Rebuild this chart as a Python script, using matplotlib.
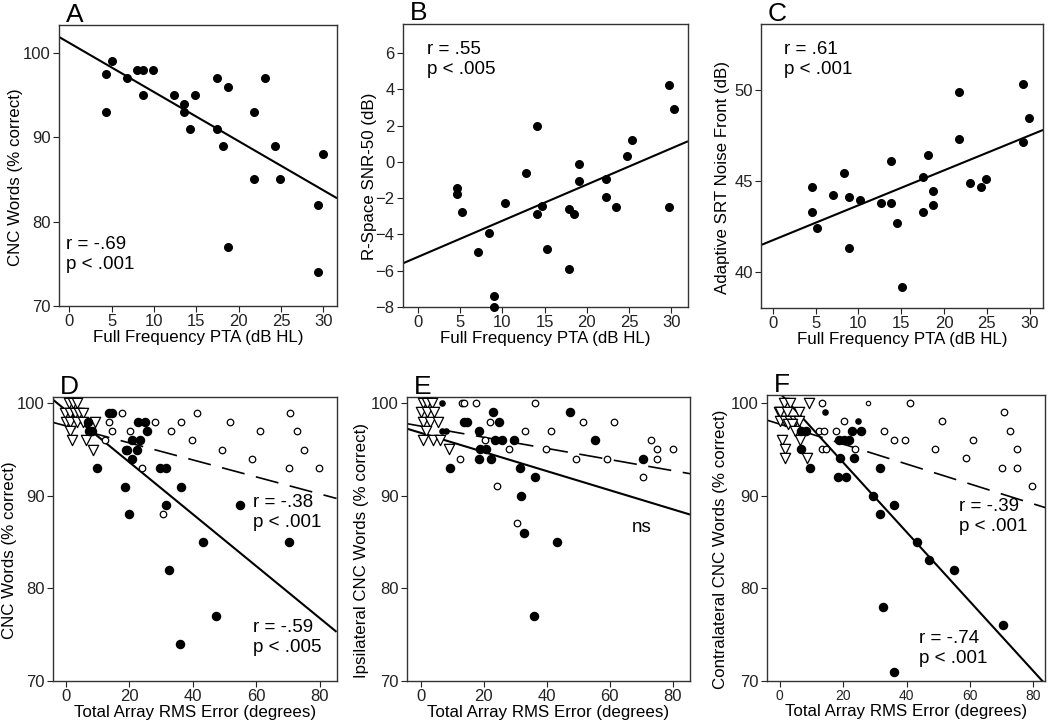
import numpy as np
import matplotlib.pyplot as plt

plt.rcParams['font.family'] = ['Liberation Sans', 'DejaVu Sans']

# ---- top row: PTA vs outcome ----
pta_a = [5, 4.3, 4.3, 6.8, 8.0, 8.7, 9.9, 8.7, 12.4, 13.6, 13.6, 14.9, 14.3, 17.4, 17.4,
         18.7, 18.1, 18.7, 21.8, 21.8, 23.1, 24.3, 24.9, 29.3, 30.0, 29.3]
cnc_a = [99, 97.5, 93, 97, 98, 98, 98, 95, 95, 94, 93, 95, 91, 97, 91,
         96, 89, 77, 93, 85, 97, 89, 85, 82, 88, 74]
fit_a = (101.2, -0.583)

pta_b = [29.8, 30.4, 14.05, 25.4, 24.8, 19.1, 19.1, 12.8, 22.3, 22.3, 23.5, 29.8, 4.6,
         4.6, 5.25, 10.3, 14.7, 14.05, 17.85, 18.5, 8.4, 7.15, 15.3, 17.85, 9.0, 9.0]
snr_b = [4.22, 2.93, 1.98, 1.18, 0.33, -0.14, -1.08, -0.6, -0.97, -1.92, -2.5, -2.5, -1.42,
         -1.79, -2.74, -2.27, -2.45, -2.85, -2.6, -2.89, -3.9, -4.96, -4.78, -5.91, -7.41, -8.0]
fit_b = (-5.235, 0.199)

pta_c = [29.26, 29.9, 29.26, 21.8, 21.8, 18.1, 13.85, 17.5, 8.3, 4.6, 4.6, 5.2, 7.08,
         8.9, 10.16, 12.6, 13.85, 17.5, 18.75, 18.75, 14.5, 8.9, 15.1, 23.07, 24.3, 24.9]
srt_c = [50.33, 48.45, 47.1, 49.87, 47.3, 46.4, 46.08, 45.2, 45.43, 44.66, 43.29, 42.4, 44.2,
         44.08, 43.95, 43.75, 43.75, 43.29, 44.4, 43.67, 42.65, 41.3, 39.18, 44.88, 44.66, 45.08]
fit_c = (41.72, 0.192)

# ---- bottom row: RMS error vs CNC ----
# D
tri_d_x = [1.0, 2.3, 3.6, -0.3, 1.3, 2.8, 4.2, 5.5, 0.0, 1.5, 3.4, 5.5, 9.1, 1.3, 2.1, 6.3, 8.6]
tri_d_y = [100, 100, 100, 99, 99, 99, 99, 99, 98, 98, 98, 98, 98, 97, 96, 96, 95]
fill_d_x = [13.5, 14.5, 7.0, 7.2, 8.4, 22.8, 24.9, 25.7, 20.9, 23.5, 19.1, 19.3, 22.5, 20.8,
            9.7, 29.6, 31.5, 18.6, 36.4, 31.7, 20.0, 55.0, 43.3, 70.3, 32.5, 47.2, 36.1]
fill_d_y = [99, 99, 98, 97, 97, 98, 98, 97, 96, 96, 95, 95, 95, 94,
            93, 93, 93, 91, 91, 89, 88, 89, 85, 85, 82, 77, 74]
open_d_x = [17.7, 41.4, 70.5, 13.6, 28.0, 36.3, 51.7, 14.7, 20.4, 33.2, 61.1, 72.9, 12.4,
            39.8, 49.1, 75.0, 58.8, 24.1, 70.3, 79.8, 30.7]
open_d_y = [99, 99, 99, 98, 98, 98, 98, 97, 97, 97, 97, 97, 96,
            96, 95, 95, 94, 93, 93, 93, 88]
fit_d_solid = (99.28, -0.281)
fit_d_dash = (97.58, -0.092)

# E
tri_e_x = [0.6, 1.9, 3.5, 0.0, 1.9, 4.0, 0.8, 2.75, 5.3, 1.7, 0.6, 3.8, 5.9, 8.8]
tri_e_y = [100, 100, 100, 99, 99, 99, 98, 98, 98, 97, 96, 96, 96, 95]
fill_e_x = [22.9, 47.4, 24.7, 13.8, 14.6, 18.4, 23.6, 25.7, 29.5, 55.2, 18.8, 20.7, 18.6,
            22.4, 70.7, 9.3, 31.5, 36.3, 31.7, 32.6, 43.4, 36.0]
fill_e_y = [99, 99, 98, 98, 98, 97, 96, 96, 96, 96, 95, 95, 94,
            94, 94, 93, 93, 92, 90, 86, 85, 77]
small_e_x = [6.6, 6.6, 8.0]
small_e_y = [100, 97, 97]
open_e_x = [13.0, 13.8, 17.6, 36.2, 22.0, 51.6, 61.2, 33.1, 41.4, 20.3, 73.0, 28.1, 39.6,
            75.1, 80.0, 12.3, 49.2, 59.0, 75.1, 70.5, 24.1, 30.5]
open_e_y = [100, 100, 100, 100, 98, 98, 98, 97, 97, 96, 96, 95, 95,
            95, 95, 94, 94, 94, 94, 92, 91, 87]
fit_e_solid = (96.77, -0.103)
fit_e_dash = (97.5, -0.060)

# F
tri_f_x = [1.3, 3.4, 9.1, -0.3, 0.0, 2.3, 6.0, 0.0, 1.8, 3.4, 4.9, 6.0, 2.5, 4.0, 4.9,
           0.7, 6.3, 1.8, 1.8, 8.6]
tri_f_y = [100, 100, 100, 99, 99, 99, 99, 98, 98, 98, 98, 98, 97.7, 97.7, 97,
           96, 96, 95, 94, 94]
fill_f_x = [6.7, 8.4, 22.8, 25.6, 18.7, 20.4, 22.0, 6.7, 18.9, 23.5, 9.45, 31.5, 18.3, 20.8,
            29.4, 36.2, 31.5, 43.3, 47.2, 55.0, 32.5, 70.3, 35.9]
fill_f_y = [97, 97, 97, 97, 96, 96, 96, 95, 94, 94, 93, 93, 92, 92,
            90, 89, 88, 85, 83, 82, 78, 76, 71]
small_f_x = [14.3, 24.6]
small_f_y = [99, 98]
open_f_x = [13.3, 41.2, 70.8, 20.4, 51.2, 12.4, 13.9, 17.6, 33.0, 72.7, 36.1, 39.5, 61.1,
            13.2, 14.5, 23.9, 49.0, 74.75, 58.8, 70.2, 74.75, 79.7]
open_f_y = [100, 100, 99, 98, 98, 97, 97, 97, 97, 97, 96, 96, 96,
            95, 95, 95, 95, 95, 94, 93, 93, 91]
tiny_open_f_x = [28.0]
tiny_open_f_y = [100]
fit_f_solid = (101.07, -0.375)
fit_f_dash = (97.7, -0.1075)

fig = plt.figure(figsize=(10.5, 7.24), dpi=100)

def setup(rect, letter, xlim, ylim, xticks, yticks, xlabel, ylabel, ylab_x, xfs=12):
    ax = fig.add_axes(rect)
    ax.set_xlim(*xlim)
    ax.set_ylim(*ylim)
    ax.set_xticks(xticks)
    ax.set_yticks(yticks)
    ax.tick_params(direction='out', length=4, width=0.8, pad=2, labelsize=12, colors='#222222')
    ax.tick_params(axis='x', labelsize=xfs, pad=1.5)
    for s in ax.spines.values():
        s.set_linewidth(1.0)
        s.set_color('#333333')
    ax.set_xlabel(xlabel, fontsize=12.2, labelpad=1)
    ax.set_ylabel(ylabel, fontsize=12.2, va='center')
    ax.yaxis.set_label_coords(ylab_x, 0.46)
    ax.text(0.025, 1.012, letter, transform=ax.transAxes, fontsize=19, va='baseline', ha='left')
    return ax

def fitline(ax, fit, ls='-'):
    x0, x1 = ax.get_xlim()
    xs = np.array([x0, x1])
    if ls == '-':
        ax.plot(xs, fit[0] + fit[1] * xs, color='black', lw=1.5, solid_capstyle='butt')
    else:
        ax.plot(xs, fit[0] + fit[1] * xs, color='black', lw=1.2, dashes=(14, 7))

def rtext(ax, x, y, s):
    ax.text(x, y, s, transform=ax.transAxes, fontsize=13.5, linespacing=1.25,
            ha='left', va='top')

# A
ax = setup([0.0562, 0.5773, 0.2648, 0.388], 'A', (-1.2, 31.6), (70, 103.3),
           range(0, 31, 5), [70, 80, 90, 100], 'Full Frequency PTA (dB HL)',
           'CNC Words (% correct)', -0.158)
ax.scatter(pta_a, cnc_a, s=30, color='black', zorder=3)
fitline(ax, fit_a)
rtext(ax, 0.025, 0.25, 'r = -.69\np < .001')

# B
ax = setup([0.3838, 0.576, 0.2714, 0.391], 'B', (-1.8, 32.0), (-8, 7.6),
           range(0, 31, 5), range(-8, 7, 2), 'Full Frequency PTA (dB HL)',
           'R-Space SNR-50 (dB)', -0.116)
ax.scatter(pta_b, snr_b, s=30, color='black', zorder=3, clip_on=False)
fitline(ax, fit_b)
rtext(ax, 0.085, 0.94, 'r = .55\np < .005')

# C
ax = setup([0.7248, 0.5746, 0.2686, 0.3923], 'C', (-1.36, 31.56), (38, 53.6),
           range(0, 31, 5), [40, 45, 50], 'Full Frequency PTA (dB HL)',
           'Adaptive SRT Noise Front (dB)', -0.135)
ax.scatter(pta_c, srt_c, s=30, color='black', zorder=3)
fitline(ax, fit_c)
rtext(ax, 0.08, 0.94, 'r = .61\np < .001')

def bottom_points(ax, tx, ty, fx, fy, ox, oy):
    ax.scatter(tx, ty, s=55, marker='v', facecolors='white', edgecolors='black',
               linewidths=0.9, zorder=3, clip_on=False)
    ax.scatter(ox, oy, s=22, marker='o', facecolors='white', edgecolors='black',
               linewidths=0.9, zorder=4, clip_on=False)
    ax.scatter(fx, fy, s=34, marker='o', color='black', zorder=5, clip_on=False)

xlab = 'Total Array RMS Error (degrees)'

# D
ax = setup([0.0505, 0.0594, 0.27, 0.3923], 'D', (-4.0, 85.3), (70, 100.7),
           range(0, 81, 20), [70, 80, 90, 100], xlab, 'CNC Words (% correct)', -0.152)
bottom_points(ax, tri_d_x, tri_d_y, fill_d_x, fill_d_y, open_d_x, open_d_y)
fitline(ax, fit_d_solid)
fitline(ax, fit_d_dash, ls='--')
rtext(ax, 0.705, 0.66, 'r = -.38\np < .001')
rtext(ax, 0.705, 0.22, 'r = -.59\np < .005')

# E
ax = setup([0.3876, 0.0594, 0.2695, 0.3923], 'E', (-4.44, 85.5), (70, 100.65),
           range(0, 81, 20), [70, 80, 90, 100], xlab, 'Ipsilateral CNC Words (% correct)', -0.159)
bottom_points(ax, tri_e_x, tri_e_y, fill_e_x, fill_e_y, open_e_x, open_e_y)
ax.scatter(small_e_x, small_e_y, s=14, color='black', zorder=5, clip_on=False)
fitline(ax, fit_e_solid)
fitline(ax, fit_e_dash, ls='--')
rtext(ax, 0.795, 0.57, 'ns')

# F
ax = setup([0.7305, 0.0594, 0.2648, 0.3945], 'F', (-4.0, 83.7), (70, 100.8),
           range(0, 81, 20), [70, 80, 90, 100], xlab, 'Contralateral CNC Words (% correct)',
           -0.169, xfs=10)
bottom_points(ax, tri_f_x, tri_f_y, fill_f_x, fill_f_y, open_f_x, open_f_y)
ax.scatter(small_f_x, small_f_y, s=14, color='black', zorder=5, clip_on=False)
ax.scatter(tiny_open_f_x, tiny_open_f_y, s=10, facecolors='white', edgecolors='black',
           linewidths=0.8, zorder=4, clip_on=False)
fitline(ax, fit_f_solid)
fitline(ax, fit_f_dash, ls='--')
rtext(ax, 0.69, 0.64, 'r = -.39\np < .001')
rtext(ax, 0.545, 0.18, 'r = -.74\np < .001')

fig.savefig('out.png', dpi=100)
